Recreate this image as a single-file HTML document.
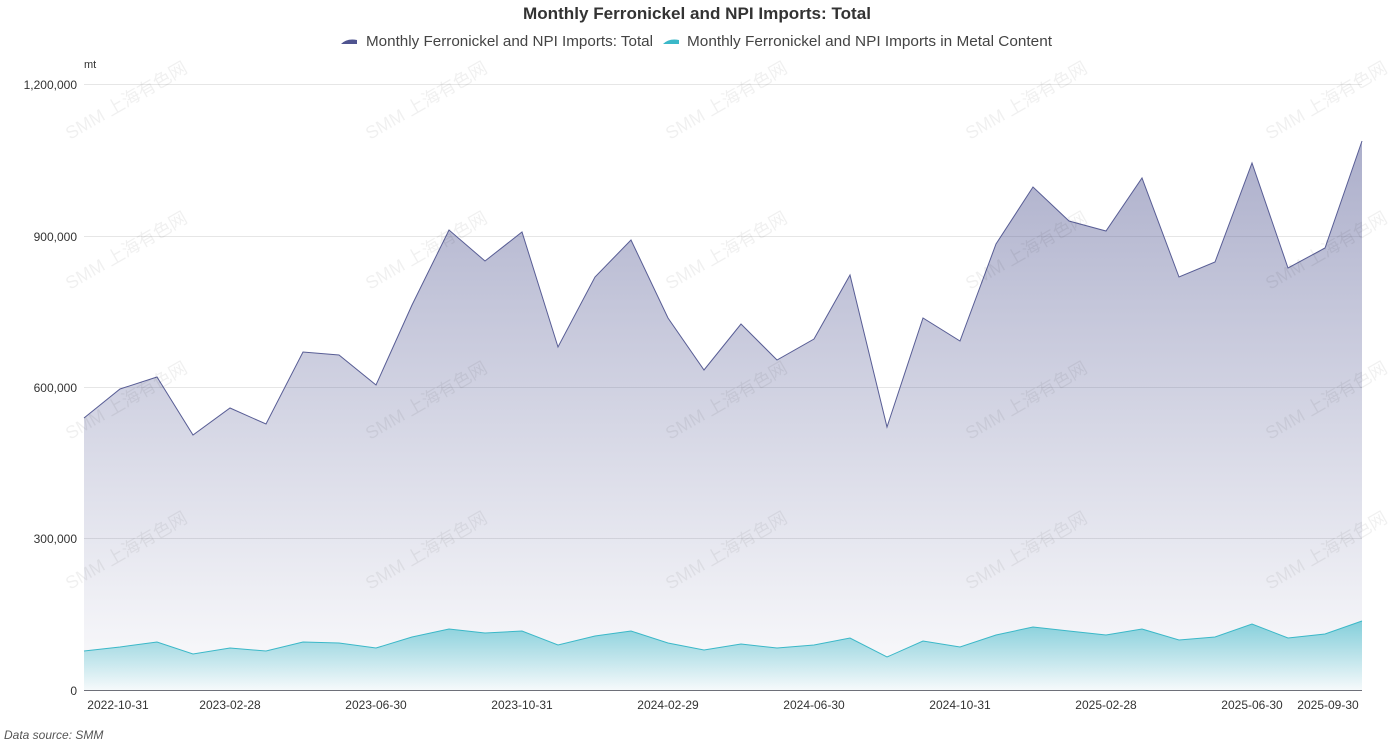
<!DOCTYPE html>
<html><head><meta charset="utf-8"><style>
body{margin:0;background:#fff;width:1394px;height:745px;overflow:hidden;font-family:"Liberation Sans","Noto Sans CJK SC",sans-serif;}
</style></head><body>
<svg width="1394" height="745" viewBox="0 0 1394 745" xmlns="http://www.w3.org/2000/svg" font-family="Liberation Sans, Noto Sans CJK SC, sans-serif">
<defs>
<linearGradient id="g1" x1="0" y1="0" x2="0" y2="1"><stop offset="0" stop-color="#5a5f97" stop-opacity="0.5"/><stop offset="1" stop-color="#5a5f97" stop-opacity="0.02"/></linearGradient>
<linearGradient id="g2" x1="0" y1="0" x2="0" y2="1"><stop offset="0" stop-color="#3bb8c8" stop-opacity="0.6"/><stop offset="1" stop-color="#3bb8c8" stop-opacity="0.03"/></linearGradient>
</defs>
<text x="523" y="19" font-size="17" font-weight="bold" fill="#333" textLength="348" lengthAdjust="spacingAndGlyphs">Monthly Ferronickel and NPI Imports: Total</text>
<path d="M341 44 q6 -6 16 -4 v4 h-16z" fill="#4f5490"/>
<text x="366" y="46" font-size="15" fill="#444" textLength="287" lengthAdjust="spacingAndGlyphs">Monthly Ferronickel and NPI Imports: Total</text>
<path d="M663 44 q6 -6 16 -4 v4 h-16z" fill="#3bb8c8"/>
<text x="687" y="46" font-size="15" fill="#444" textLength="365" lengthAdjust="spacingAndGlyphs">Monthly Ferronickel and NPI Imports in Metal Content</text>
<text x="84" y="68" font-size="11" fill="#333">mt</text>
<g stroke="#e6e6e6" stroke-width="1">
<line x1="84" x2="1362" y1="84.5" y2="84.5"/><line x1="84" x2="1362" y1="236.5" y2="236.5"/><line x1="84" x2="1362" y1="387.5" y2="387.5"/><line x1="84" x2="1362" y1="538.5" y2="538.5"/>
</g>
<g font-size="12" fill="#333" text-anchor="end">
<text x="77" y="89">1,200,000</text><text x="77" y="241">900,000</text><text x="77" y="392">600,000</text><text x="77" y="543">300,000</text><text x="77" y="695">0</text>
</g>
<path fill="url(#g1)" d="M84,418 L120,389 L157,377 L193,435 L230,408 L266,424 L303,352 L339,355 L376,385 L412,305 L449,230 L485,261 L522,232 L558,347 L595,277 L631,240 L668,318 L704,370 L741,324 L777,360 L814,339 L850,275 L887,427 L923,318 L960,341 L996,244 L1033,187 L1069,221 L1106,231 L1142,178 L1179,277 L1215,262 L1252,163 L1288,268 L1325,248 L1362,141 L1362,690 L84,690Z"/>
<path fill="none" stroke="#585d95" stroke-width="1" d="M84,418 L120,389 L157,377 L193,435 L230,408 L266,424 L303,352 L339,355 L376,385 L412,305 L449,230 L485,261 L522,232 L558,347 L595,277 L631,240 L668,318 L704,370 L741,324 L777,360 L814,339 L850,275 L887,427 L923,318 L960,341 L996,244 L1033,187 L1069,221 L1106,231 L1142,178 L1179,277 L1215,262 L1252,163 L1288,268 L1325,248 L1362,141"/>
<path fill="url(#g2)" d="M84,651 L120,647 L157,642 L193,654 L230,648 L266,651 L303,642 L339,643 L376,648 L412,637 L449,629 L485,633 L522,631 L558,645 L595,636 L631,631 L668,643 L704,650 L741,644 L777,648 L814,645 L850,638 L887,657 L923,641 L960,647 L996,635 L1033,627 L1069,631 L1106,635 L1142,629 L1179,640 L1215,637 L1252,624 L1288,638 L1325,634 L1362,621 L1362,690 L84,690Z"/>
<path fill="none" stroke="#3bb8c8" stroke-width="1" d="M84,651 L120,647 L157,642 L193,654 L230,648 L266,651 L303,642 L339,643 L376,648 L412,637 L449,629 L485,633 L522,631 L558,645 L595,636 L631,631 L668,643 L704,650 L741,644 L777,648 L814,645 L850,638 L887,657 L923,641 L960,647 L996,635 L1033,627 L1069,631 L1106,635 L1142,629 L1179,640 L1215,637 L1252,624 L1288,638 L1325,634 L1362,621"/>
<line x1="84" x2="1362" y1="690.5" y2="690.5" stroke="#6e7079"/>
<g font-size="12" fill="#333" text-anchor="middle">
<text x="118" y="709">2022-10-31</text><text x="230" y="709">2023-02-28</text><text x="376" y="709">2023-06-30</text><text x="522" y="709">2023-10-31</text><text x="668" y="709">2024-02-29</text><text x="814" y="709">2024-06-30</text><text x="960" y="709">2024-10-31</text><text x="1106" y="709">2025-02-28</text><text x="1252" y="709">2025-06-30</text><text x="1328" y="709">2025-09-30</text>
</g>
<text x="4" y="739" font-size="12" font-style="italic" fill="#555">Data source:  SMM</text>
<g font-size="18" fill="#000" fill-opacity="0.06">
<text transform="translate(70,140) rotate(-30)">SMM 上海有色网</text>
<text transform="translate(370,140) rotate(-30)">SMM 上海有色网</text>
<text transform="translate(670,140) rotate(-30)">SMM 上海有色网</text>
<text transform="translate(970,140) rotate(-30)">SMM 上海有色网</text>
<text transform="translate(1270,140) rotate(-30)">SMM 上海有色网</text>
<text transform="translate(70,290) rotate(-30)">SMM 上海有色网</text>
<text transform="translate(370,290) rotate(-30)">SMM 上海有色网</text>
<text transform="translate(670,290) rotate(-30)">SMM 上海有色网</text>
<text transform="translate(970,290) rotate(-30)">SMM 上海有色网</text>
<text transform="translate(1270,290) rotate(-30)">SMM 上海有色网</text>
<text transform="translate(70,440) rotate(-30)">SMM 上海有色网</text>
<text transform="translate(370,440) rotate(-30)">SMM 上海有色网</text>
<text transform="translate(670,440) rotate(-30)">SMM 上海有色网</text>
<text transform="translate(970,440) rotate(-30)">SMM 上海有色网</text>
<text transform="translate(1270,440) rotate(-30)">SMM 上海有色网</text>
<text transform="translate(70,590) rotate(-30)">SMM 上海有色网</text>
<text transform="translate(370,590) rotate(-30)">SMM 上海有色网</text>
<text transform="translate(670,590) rotate(-30)">SMM 上海有色网</text>
<text transform="translate(970,590) rotate(-30)">SMM 上海有色网</text>
<text transform="translate(1270,590) rotate(-30)">SMM 上海有色网</text>
</g>
</svg>
</body></html>
